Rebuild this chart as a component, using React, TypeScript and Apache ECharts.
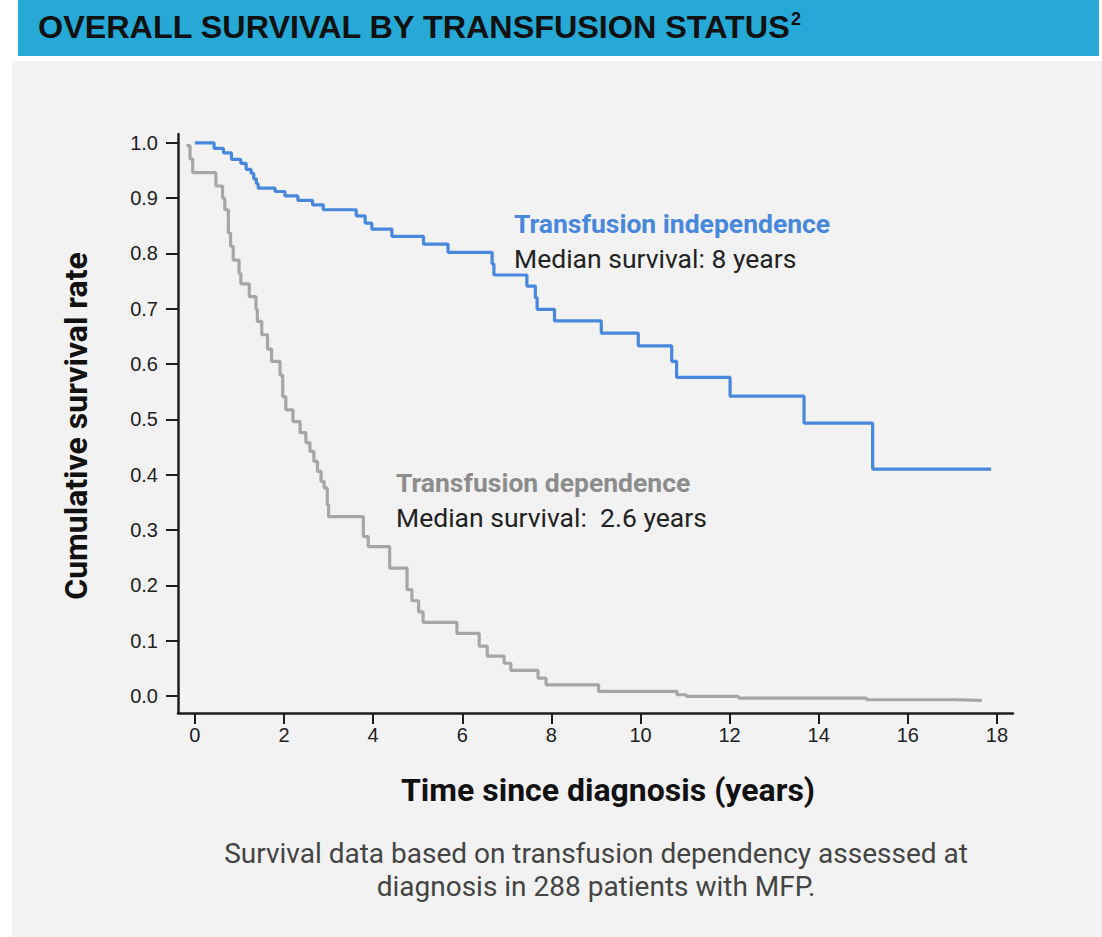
import React, { useEffect, useRef } from "react";
import * as echarts from "echarts";

// Kaplan–Meier step curves: time (years) and survival at/after that time
const independenceTimes = [0, 0.43, 0.64, 0.82, 1.03, 1.15, 1.26, 1.32, 1.38, 1.42, 1.8, 2.02, 2.31, 2.64, 2.88, 3.62, 3.82, 3.97, 4.42, 5.13, 5.68, 6.67, 6.71, 7.45, 7.64, 7.68, 8.07, 9.12, 9.95, 10.7, 10.81, 12.01, 13.67, 15.21, 17.87];
const independenceSurvival = [1.0, 0.99, 0.982, 0.97, 0.963, 0.952, 0.945, 0.935, 0.926, 0.918, 0.912, 0.904, 0.896, 0.888, 0.879, 0.868, 0.855, 0.844, 0.831, 0.817, 0.802, 0.781, 0.761, 0.741, 0.72, 0.699, 0.678, 0.656, 0.633, 0.605, 0.576, 0.542, 0.493, 0.41, 0.41];

const dependenceTimes = [-0.19, -0.11, -0.05, 0.47, 0.62, 0.67, 0.75, 0.8, 0.86, 0.99, 1.03, 1.22, 1.37, 1.4, 1.5, 1.63, 1.72, 1.91, 1.97, 2.04, 2.2, 2.36, 2.49, 2.58, 2.67, 2.75, 2.83, 2.9, 2.97, 3.0, 3.78, 3.89, 4.37, 4.76, 4.87, 5.02, 5.12, 5.88, 6.38, 6.56, 6.94, 7.09, 7.7, 7.88, 9.06, 10.82, 11.03, 12.2, 15.07, 17.1, 17.66];
const dependenceSurvival = [0.995, 0.971, 0.946, 0.922, 0.9, 0.879, 0.837, 0.813, 0.788, 0.764, 0.745, 0.722, 0.699, 0.677, 0.653, 0.627, 0.605, 0.58, 0.541, 0.517, 0.496, 0.476, 0.458, 0.442, 0.424, 0.406, 0.388, 0.376, 0.345, 0.324, 0.288, 0.27, 0.231, 0.192, 0.172, 0.152, 0.133, 0.113, 0.09, 0.072, 0.059, 0.046, 0.032, 0.02, 0.008, 0.002, -0.001, -0.004, -0.007, -0.008, -0.008];

const xTicks = [0, 2, 4, 6, 8, 10, 12, 14, 16, 18];
const yTicks = [0, 0.1, 0.2, 0.3, 0.4, 0.5, 0.6, 0.7, 0.8, 0.9, 1.0];

const BLUE = "#4787dc";
const GREY = "#a6a6a6";
const AXIS = "#1e1e1e";
const TICK_FONT = "'Liberation Sans Narrow', 'Arial Narrow', 'Liberation Sans', Arial, sans-serif";

export default function App() {
  const ref = useRef<HTMLDivElement>(null);
  useEffect(() => {
    if (!ref.current) return;
    const chart = echarts.init(ref.current, null, { renderer: "svg" });
    const blueData = independenceTimes.map((t, i) => [t, independenceSurvival[i]]);
    const greyData = dependenceTimes.map((t, i) => [t, dependenceSurvival[i]]);
    chart.setOption({
      animation: false,
      backgroundColor: "#ffffff",
      grid: { left: 178, right: 89, top: 134, bottom: 224, containLabel: false },
      xAxis: {
        type: "value",
        min: -0.38,
        max: 18.36,
        axisLine: { show: true, onZero: false, lineStyle: { color: AXIS, width: 2.5 } },
        axisTick: { show: true, customValues: xTicks, length: 11, lineStyle: { color: AXIS, width: 2 } },
        axisLabel: { customValues: xTicks, margin: 12, fontSize: 20, color: "#222", fontFamily: TICK_FONT },
        splitLine: { show: false },
      },
      yAxis: {
        type: "value",
        min: -0.031,
        max: 1.016,
        axisLine: { show: true, onZero: false, lineStyle: { color: AXIS, width: 2.5 } },
        axisTick: { show: true, customValues: yTicks, length: 12, lineStyle: { color: AXIS, width: 2 } },
        axisLabel: {
          customValues: yTicks,
          margin: 20,
          fontSize: 20,
          color: "#222",
          fontFamily: TICK_FONT,
          formatter: (v: number) => v.toFixed(1),
        },
        splitLine: { show: false },
      },
      series: [
        {
          name: "Transfusion independence",
          type: "line",
          step: "end",
          data: blueData,
          showSymbol: false,
          lineStyle: { color: BLUE, width: 3.2 },
          z: 3,
        },
        {
          name: "Transfusion dependence",
          type: "line",
          step: "end",
          data: greyData,
          showSymbol: false,
          lineStyle: { color: GREY, width: 3.2 },
          z: 2,
        },
      ],
      graphic: [
        { type: "rect", z: -10, shape: { x: 12, y: 61, width: 1090, height: 876 }, style: { fill: "#f2f2f2" } },
        { type: "rect", z: -10, shape: { x: 18, y: 0, width: 1081, height: 56 }, style: { fill: "#26a9d6" } },
        {
          type: "text",
          x: 38,
          y: 27,
          scaleX: 1.01,
          style: {
            text: "OVERALL SURVIVAL BY TRANSFUSION STATUS",
            font: "bold 32px 'Liberation Sans', Arial, sans-serif",
            fill: "#111",
            verticalAlign: "middle",
            align: "left",
          },
        },
        {
          type: "text",
          x: 791,
          y: 19,
          style: {
            text: "2",
            font: "bold 18px 'Liberation Sans', Arial, sans-serif",
            fill: "#111",
            verticalAlign: "middle",
            align: "left",
          },
        },
        {
          type: "text",
          x: 514,
          y: 223,
          style: { text: "Transfusion independence", font: "bold 26.5px Roboto, sans-serif", fill: BLUE, verticalAlign: "middle" },
        },
        {
          type: "text",
          x: 514,
          y: 258,
          style: { text: "Median survival: 8 years", font: "26.5px Roboto, sans-serif", fill: "#222", verticalAlign: "middle" },
        },
        {
          type: "text",
          x: 396,
          y: 482,
          style: { text: "Transfusion dependence", font: "bold 26.5px Roboto, sans-serif", fill: "#8c8c8c", verticalAlign: "middle" },
        },
        {
          type: "text",
          x: 396,
          y: 517,
          style: { text: "Median survival:  2.6 years", font: "26.5px Roboto, sans-serif", fill: "#222", verticalAlign: "middle" },
        },
        {
          type: "text",
          x: 76,
          y: 426,
          rotation: Math.PI / 2,
          style: {
            text: "Cumulative survival rate",
            font: "bold 32px Roboto, sans-serif",
            fill: "#111",
            align: "center",
            verticalAlign: "middle",
          },
        },
        {
          type: "text",
          x: 608,
          y: 790,
          style: {
            text: "Time since diagnosis (years)",
            font: "bold 32px Roboto, sans-serif",
            fill: "#111",
            align: "center",
            verticalAlign: "middle",
          },
        },
        {
          type: "text",
          x: 596,
          y: 853,
          style: {
            text: "Survival data based on transfusion dependency assessed at",
            font: "28px Roboto, sans-serif",
            fill: "#444",
            align: "center",
            verticalAlign: "middle",
          },
        },
        {
          type: "text",
          x: 596,
          y: 886,
          style: {
            text: "diagnosis in 288 patients with MFP.",
            font: "28px Roboto, sans-serif",
            fill: "#444",
            align: "center",
            verticalAlign: "middle",
          },
        },
      ],
    });
    return () => chart.dispose();
  }, []);
  return <div ref={ref} style={{ position: "fixed", left: 0, top: 0, width: 1102, height: 937 }} />;
}
